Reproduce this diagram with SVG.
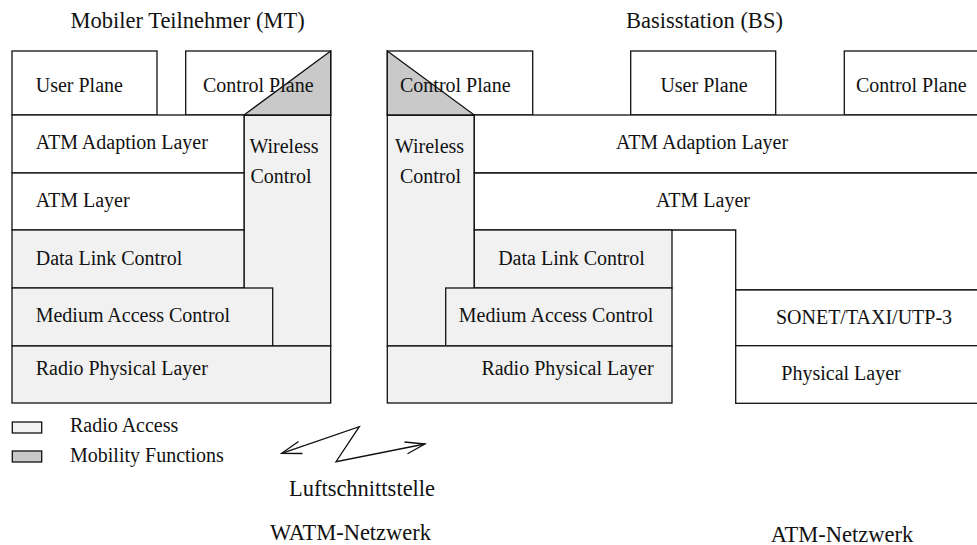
<svg xmlns="http://www.w3.org/2000/svg" width="977" height="545" viewBox="0 0 977 545">
<style>
.b{stroke:#111;stroke-width:1.3;}
.w{fill:#fff;}
.r{fill:#f1f1f1;}
.m{fill:#c9c9c9;}
text{font-family:"Liberation Serif","Times New Roman",serif;font-size:20px;fill:#111;}
.t{font-size:22.5px;}
.c{text-anchor:middle;}
.ln{fill:none;stroke:#111;stroke-width:1.3;stroke-linejoin:miter;}
</style>
<rect width="977" height="545" fill="#fff"/>
<g id="titles">
<text class="t" x="70.5" y="28">Mobiler Teilnehmer (MT)</text>
<text class="t" x="626" y="28">Basisstation (BS)</text>
</g>
<g id="mt">
<g id="mt-user-plane"><rect class="b w" x="12" y="51" width="145" height="64"/><text x="35.7" y="91.7">User Plane</text></g>
<g id="mt-wireless-control"><rect class="b r" x="244" y="115" width="86.7" height="231"/><text class="c" x="284" y="153">Wireless</text><text class="c" x="281" y="183">Control</text></g>
<g id="mt-control-plane"><rect class="b w" x="185.7" y="51" width="145" height="64"/><polygon class="b m" points="330.7,51 330.7,115 244,115"/><text x="203" y="91.7">Control Plane</text></g>
<g id="mt-aal"><rect class="b w" x="12" y="115" width="232" height="58"/><text x="35.7" y="149.3">ATM Adaption Layer</text></g>
<g id="mt-atm"><rect class="b w" x="12" y="173" width="232" height="57"/><text x="35.7" y="206.7">ATM Layer</text></g>
<g id="mt-dlc"><rect class="b r" x="12" y="230" width="232" height="58"/><text x="35.7" y="265">Data Link Control</text></g>
<g id="mt-mac"><rect class="b r" x="12" y="288" width="260.7" height="58"/><text x="35.7" y="321.7">Medium Access Control</text></g>
<g id="mt-rpl"><rect class="b r" x="12" y="346" width="318.7" height="57"/><text x="35.7" y="375">Radio Physical Layer</text></g>
</g>
<g id="bs">
<g id="bs-wireless-control"><rect class="b r" x="387.3" y="115" width="87" height="231"/><text class="c" x="429.5" y="153">Wireless</text><text class="c" x="430.5" y="183">Control</text></g>
<g id="bs-control-plane"><rect class="b w" x="387.3" y="51" width="145.4" height="64"/><polygon class="b m" points="387.3,51 387.3,115 474.3,115"/><text x="400" y="91.7">Control Plane</text></g>
<g id="bs-user-plane"><rect class="b w" x="630.7" y="51" width="145" height="64"/><text class="c" x="704" y="91.7">User Plane</text></g>
<g id="bs-control-plane-atm"><rect class="b w" x="844.3" y="51" width="145" height="64"/><text x="856" y="91.7">Control Plane</text></g>
<g id="bs-aal"><rect class="b w" x="474.3" y="115" width="515" height="58"/><text class="c" x="702" y="149.3">ATM Adaption Layer</text></g>
<g id="bs-atm"><polygon class="b w" points="474.3,173 990,173 990,290 735.7,290 735.7,230 474.3,230"/><text class="c" x="703" y="206.7">ATM Layer</text></g>
<g id="bs-dlc"><rect class="b r" x="474.3" y="230" width="197.7" height="58"/><text class="c" x="571.5" y="265">Data Link Control</text></g>
<g id="bs-mac"><rect class="b r" x="445.7" y="288" width="226.3" height="58"/><text class="c" x="556" y="321.7">Medium Access Control</text></g>
<g id="bs-rpl"><rect class="b r" x="387.3" y="346" width="284.7" height="57"/><text class="c" x="567.5" y="375">Radio Physical Layer</text></g>
<g id="bs-sonet"><rect class="b w" x="735.7" y="290" width="254" height="55.7"/><text class="c" x="864" y="323.5">SONET/TAXI/UTP-3</text></g>
<g id="bs-phy"><rect class="b w" x="735.7" y="345.7" width="254" height="57.6"/><text class="c" x="841" y="380">Physical Layer</text></g>
</g>
<g id="legend">
<rect class="b r" x="12.3" y="422" width="29.4" height="11"/>
<text x="70" y="432.3">Radio Access</text>
<rect class="b m" x="12.3" y="451" width="29.4" height="11"/>
<text x="70" y="461.7">Mobility Functions</text>
</g>
<g id="connectors">
<polyline class="ln" points="281.7,453.3 359.3,426.7 336,461.7 425,444"/>
<polyline class="ln" points="298.5,441.5 281.7,453.3 302.5,453.5"/>
<polyline class="ln" points="404.5,442 425,444 407.5,453.8"/>
</g>
<g id="labels">
<text class="t c" x="362" y="495.7">Luftschnittstelle</text>
<text class="t c" x="350.5" y="540">WATM-Netzwerk</text>
<text class="t c" x="842" y="541.5">ATM-Netzwerk</text>
</g>
</svg>
